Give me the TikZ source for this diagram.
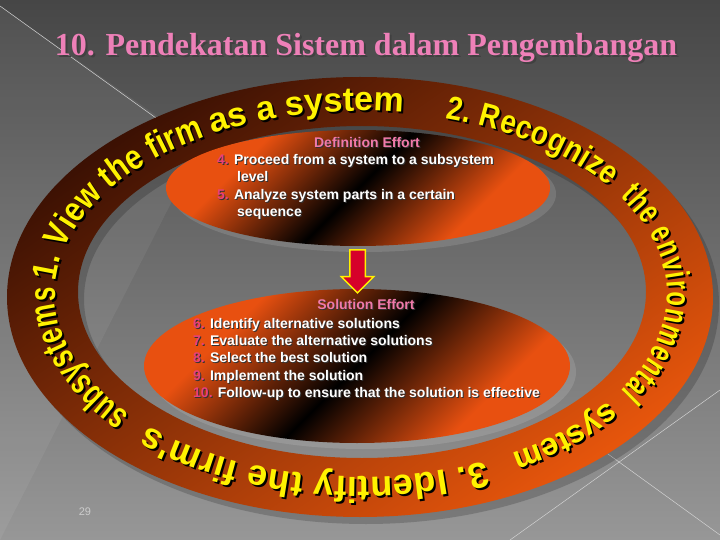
\documentclass[tikz,border=0pt]{standalone}
\usepackage{fontspec}
\setmainfont{Liberation Sans}
\newfontfamily\titlefont{Liberation Serif}
\newfontfamily\ringwide{Liberation Sans}
\newfontfamily\ringmid{Liberation Sans}[FakeStretch=0.85]
\newfontfamily\ringnarrow{Liberation Sans}[FakeStretch=0.7]
\usepackage{xcolor}
\usetikzlibrary{shadows,shapes.geometric,shapes.arrows,decorations.text,calc}

\definecolor{bgtop}{HTML}{464646}
\definecolor{bgbot}{HTML}{979797}
\definecolor{ringdark}{HTML}{3A1003}
\definecolor{ringorange}{HTML}{E8560C}
\definecolor{effortorange}{HTML}{E85010}
\definecolor{titlepink}{HTML}{EE80B8}
\definecolor{headpink}{HTML}{F07AAA}
\definecolor{numpink}{HTML}{E8407A}
\definecolor{arrowred}{HTML}{D6002A}

\pgfdeclareverticalshading{effortband}{100bp}{color(0bp)=(effortorange); color(30bp)=(effortorange); color(50bp)=(black); color(70bp)=(effortorange); color(100bp)=(effortorange)}

\tikzset{
  effort/.style={ellipse, inner sep=0pt, shading=effortband, shading angle=45,
    drop shadow={shadow xshift=6pt, shadow yshift=-6pt, fill=white, opacity=.12}},
  efftext/.style={inner sep=0pt, font=\fontsize{14}{16}\selectfont\bfseries, text=white},
  flowarrow/.style={single arrow, rotate=-90, draw=yellow, line width=1.5pt,
    fill=arrowred, inner xsep=0pt, inner ysep=7pt, minimum height=43pt,
    single arrow head extend=8.5pt}
}

% number in front of a step
\newcommand{\itemno}[1]{\textcolor{numpink}{#1}}
% one line of text with its dark shadow
\newcommand{\effline}[5][base west]{%
  \node[efftext, anchor=#1, text=black!80,
    execute at begin node={\colorlet{numpink}{black!80}\colorlet{headpink}{black!80}}]
    (#2-shadow) at (#3+1,#4+1) {#5};
  \node[efftext, anchor=#1] (#2) at (#3,#4) {#5};}
% yellow text round the ring, with its black shadow
% #1 font, #2 start angle, #3 end angle, #4 size, #5 text
\newcommand{\ringtext}[5]{%
  \foreach \tcol/\off in {black/2,yellow/0}
    \path[decorate, decoration={text along path, text align=fit to path, text color=\tcol,
      text={|#1\fontsize{#4}{#4}\selectfont\bfseries|#5}}]
      (361+\off,294+\off) ++(#2:306 and 183)
      arc[start angle=#2, end angle=#3, x radius=306, y radius=183];}

\begin{document}
\begin{tikzpicture}[x=1pt,y=-1pt]
  \useasboundingbox (0,0) rectangle (720,540);

  % Draw the slide background
  \shade[top color=bgtop, bottom color=bgbot] (0,0) rectangle (720,540);
  \fill[white, opacity=.06] (0,6) -- (200,146) -- (0,540) -- cycle;
  \draw[white!65!gray, line width=.5pt] (0,6) -- (156,118);
  \draw[white!65!gray, line width=.5pt] (510,540) -- (720,390);
  \draw[white!65!gray, line width=.5pt] (590,441) -- (720,535);

  % Title with its shadow
  \node[font=\titlefont\bfseries\fontsize{32}{36}\selectfont, text=black!75, anchor=base]
    (title-shadow) at (368,58) {10. Pendekatan Sistem dalam Pengembangan};
  \node[font=\titlefont\bfseries\fontsize{32}{36}\selectfont, text=titlepink, anchor=base]
    (title) at (366,56) {10. Pendekatan Sistem dalam Pengembangan};

  % Draw the ring and its shadow
  \fill[black, opacity=.18, even odd rule]
    (366,304) ellipse [x radius=353, y radius=220] (368,299) ellipse [x radius=284, y radius=166];
  \shade[even odd rule, top color=ringdark, bottom color=ringorange, shading angle=35]
    (360,297) ellipse [x radius=353, y radius=220] (362,292) ellipse [x radius=284, y radius=166];

  % Text round the ring
  \ringtext{\ringmid}{-176}{-122}{35}{1. View the firm}
  \ringtext{\ringwide}{-119}{-82}{34}{as a system}
  \ringtext{\ringmid}{-74}{-36}{33}{2. Recognize}
  \ringtext{\ringnarrow}{-32}{32}{34}{the environmental}
  \ringtext{\ringwide}{36}{60}{32}{system}
  \ringtext{\ringwide}{66}{134}{36}{3. Identify the firm's}
  \ringtext{\ringnarrow}{139}{182}{37}{subsystems}

  % The two efforts
  \node[effort, minimum width=384pt, minimum height=116pt] (defn) at (358,188) {};
  \node[effort, minimum width=426pt, minimum height=154pt] (soln) at (357,366) {};
  \node[flowarrow] (down) at ($(defn.south)!.5!(soln.north)$) {};

  \effline[base]{defn-head}{367}{148}{\textcolor{headpink}{Definition Effort}}
  \effline{step4}{217}{165}{\itemno{4.} Proceed from a system to a subsystem}
  \effline{step4b}{237}{182}{level}
  \effline{step5}{217}{200}{\itemno{5.} Analyze system parts in a certain}
  \effline{step5b}{237}{217}{sequence}

  \effline[base]{soln-head}{366}{309}{\textcolor{headpink}{Solution Effort}}
  \effline{step6}{193}{328}{\itemno{6.} Identify alternative solutions}
  \effline{step7}{193}{345}{\itemno{7.} Evaluate the alternative solutions}
  \effline{step8}{193}{362}{\itemno{8.} Select the best solution}
  \effline{step9}{193}{380}{\itemno{9.} Implement the solution}
  \effline{step10}{193}{397}{\itemno{10.} Follow-up to ensure that the solution is effective}

  % Page number
  \node[font=\fontsize{11}{13}\selectfont, text=white!80!black] (page) at (85,512) {29};
\end{tikzpicture}
\end{document}
